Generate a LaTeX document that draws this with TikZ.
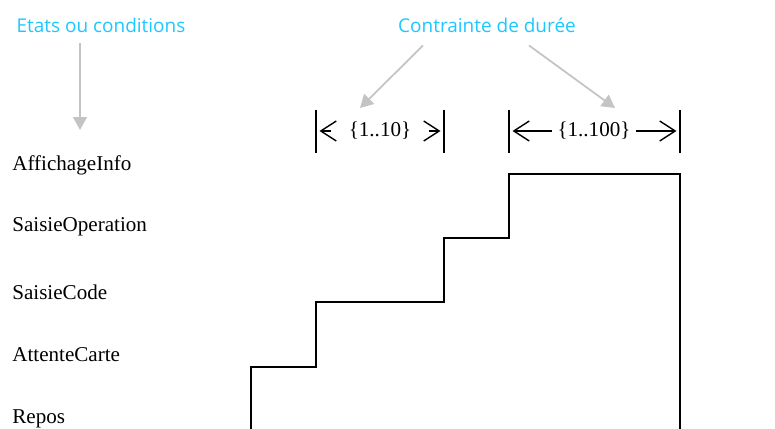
\documentclass[tikz,border=0pt]{standalone}
\usepackage{fontspec}
\setmainfont{Liberation Serif}
\newfontfamily\notefont{Open Sans}
\usepackage{tikz}
\usepackage{xcolor}
\usetikzlibrary{arrows.meta,positioning,calc}
\definecolor{ink}{HTML}{000000}
\definecolor{noteblue}{HTML}{1CC8FF}
\definecolor{pointer}{HTML}{C4C4C4}
\tikzset{
  statelabel/.style={anchor=west,inner sep=0pt,font=\fontsize{12}{14}\selectfont,text=ink},
  note/.style={inner sep=1pt,font=\notefont\fontsize{10.8}{13}\selectfont,text=noteblue},
  durlabel/.style={inner sep=2pt,font=\fontsize{12}{14}\selectfont},
  signal/.style={draw=ink,line width=1.1pt,line join=miter},
  bound/.style={draw=ink,line width=1.1pt},
  dimarr/.style={-{Straight Barb[length=3.1mm,width=4mm,line width=0.8pt]},line width=0.8pt,draw=ink},
  grayarr/.style={-{Triangle[length=2.6mm,width=2.8mm]},line width=1pt,draw=pointer,fill=pointer}
}
\begin{document}
\begin{tikzpicture}[x=0.02cm,y=-0.02cm]
    \path[use as bounding box] (0,0) rectangle (775,429);

    % annotations
    \node[note] (etats) at (101,25) {Etats ou conditions};
    \node[note] (duree) at (487,25) {Contrainte de durée};
    \coordinate (etend) at (80,130);
    \coordinate (d1) at (360,108);
    \coordinate (d2) at (615,108);
    \draw[grayarr] (etats.south -| etend) ++(0,9) -- (etend);
    \draw[grayarr] ($(duree.south)+(-64,11)$) -- (d1);
    \draw[grayarr] ($(duree.south)+(42,11)$) -- (d2);

    % state names
    \node[statelabel] (info)  at (12,165) {AffichageInfo};
    \node[statelabel] (oper)  at (12,227) {SaisieOperation};
    \node[statelabel] (code)  at (12,292) {SaisieCode};
    \node[statelabel] (carte) at (12,355) {AttenteCarte};
    \node[statelabel] (repos) at (12,419) {Repos};

    % duration marks
    \foreach \x/\n in {316/b1,444/b2,509/b3,680/b4}{
      \coordinate (\n) at (\x,131);
      \draw[bound] (\x,110) -- (\x,153);
    }
    \node[durlabel] (t1) at (380,131) {\{1..10\}};
    \node[durlabel] (t2) at (594,131) {\{1..100\}};
    \draw[dimarr,shorten <=0.28cm,shorten >=0.07cm] (t1.west) -- (b1);
    \draw[dimarr,shorten <=0.28cm,shorten >=0.07cm] (t1.east) -- (b2);
    \draw[dimarr,shorten <=0.04cm,shorten >=0.07cm] (t2.west) -- (b3);
    \draw[dimarr,shorten <=0.04cm,shorten >=0.07cm] (t2.east) -- (b4);

    % state over time
    \draw[signal] (251,429) -- (251,367) -- (316,367) -- (316,302)
      -- (444,302) -- (444,238) -- (509,238) -- (509,174)
      -- (680,174) -- (680,429);
\end{tikzpicture}
\end{document}
